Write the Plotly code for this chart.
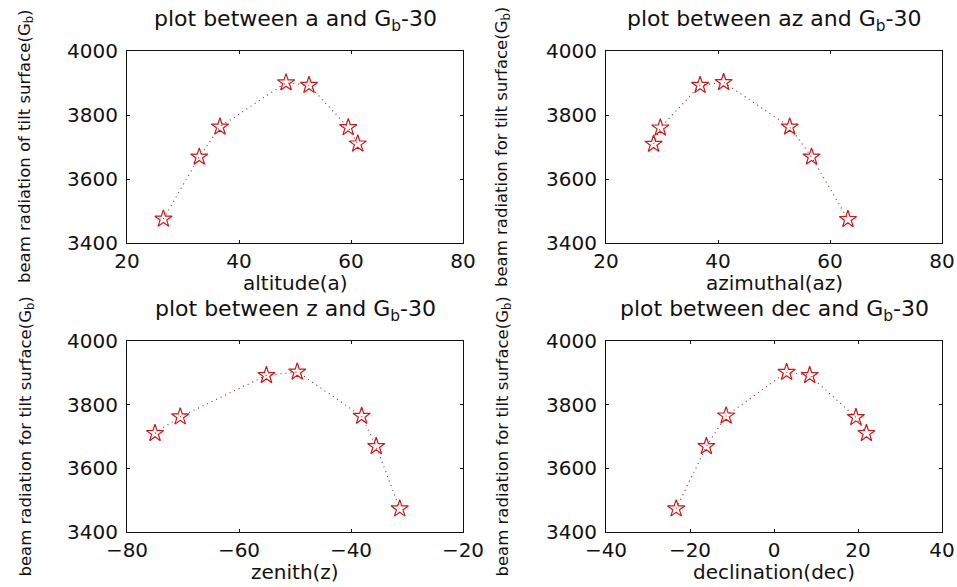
import plotly.graph_objects as go

# ---- data ----
altitude = [26.5, 32.9, 36.6, 48.4, 52.5, 59.5, 61.2]
gb_altitude = [3475, 3669, 3763, 3901, 3893, 3761, 3710]

azimuthal = [28.5, 29.7, 36.8, 41.0, 52.8, 56.7, 63.2]
gb_azimuthal = [3709, 3760, 3893, 3902, 3763, 3669, 3474]

zenith = [-75.0, -70.5, -55.1, -49.6, -38.1, -35.5, -31.3]
gb_zenith = [3710, 3762, 3892, 3903, 3764, 3669, 3473]

declination = [-23.3, -16.1, -11.4, 3.0, 8.5, 19.5, 22.0]
gb_declination = [3473, 3669, 3765, 3902, 3892, 3760, 3710]

titles = ["plot between a and G<sub>b</sub>-30", "plot between az and G<sub>b</sub>-30",
          "plot between z and G<sub>b</sub>-30", "plot between dec and G<sub>b</sub>-30"]
xlabels = ["altitude(a)", "azimuthal(az)", "zenith(z)", "declination(dec)"]
ylabels = ["beam radiation of tilt surface(G<sub>b</sub>)",
           "beam radiation for tilt surface(G<sub>b</sub>)",
           "beam radiation for tilt surface(G<sub>b</sub>)",
           "beam radiation for tilt surface(G<sub>b</sub>)"]
xranges = [[20, 80], [20, 80], [-80, -20], [-40, 40]]
xticks = [[20, 40, 60, 80], [20, 40, 60, 80], [-80, -60, -40, -20], [-40, -20, 0, 20, 40]]
yrange = [3400, 4000]
yticks = [3400, 3600, 3800, 4000]

W, H = 957, 587
FONT = "DejaVu Sans"
RED = "#cc1a1a"

# pixel boxes of the four axes: (left, right, top, bottom)
boxes = [(127, 463, 51, 243), (606, 942, 51, 243), (127, 463, 341, 532), (606, 942, 341, 532)]
ylab_x = [26, 503, 26, 503]

xs = [altitude, azimuthal, zenith, declination]
ys = [gb_altitude, gb_azimuthal, gb_zenith, gb_declination]

fig = go.Figure()
annotations = []
for i in range(4):
    n = "" if i == 0 else str(i + 1)
    L, R, T, B = boxes[i]
    fig.add_trace(go.Scatter(
        x=xs[i], y=ys[i], mode="lines+markers",
        xaxis="x" + n, yaxis="y" + n,
        line=dict(color="#a02020", width=1.1, dash="1px,4px"),
        marker=dict(symbol="star-open", size=13, color=RED, line=dict(width=1.2, color=RED)),
        showlegend=False, hoverinfo="x+y"))
    axcommon = dict(showline=True, linecolor="#111", linewidth=1.2, mirror="ticks",
                    ticks="inside", ticklen=3, tickcolor="#111", showgrid=False, zeroline=False,
                    automargin=False,
                    tickfont=dict(family=FONT, size=20, color="#111"))
    fig.layout["xaxis" + n] = dict(axcommon, domain=[L / W, R / W], range=xranges[i],
                                    tickvals=xticks[i], anchor="y" + n, ticklabelstandoff=0)
    fig.layout["yaxis" + n] = dict(axcommon, domain=[1 - B / H, 1 - T / H], range=yrange,
                                    tickvals=yticks, anchor="x" + n, ticklabelstandoff=4)
    cx = (L + R) / 2 / W
    annotations.append(dict(text=titles[i], x=cx, y=1 - (T - 31) / H, xref="paper", yref="paper",
                            xanchor="center", yanchor="middle", showarrow=False,
                            font=dict(family=FONT, size=22, color="#111")))
    annotations.append(dict(text=xlabels[i], x=cx, y=1 - (B + 40) / H, xref="paper", yref="paper",
                            xanchor="center", yanchor="middle", showarrow=False,
                            font=dict(family=FONT, size=20, color="#111")))
    annotations.append(dict(text=ylabels[i], x=ylab_x[i] / W, y=1 - (T + B) / 2 / H,
                            xref="paper", yref="paper", textangle=-90,
                            xanchor="center", yanchor="middle", showarrow=False,
                            font=dict(family=FONT, size=16.5, color="#111")))

fig.update_layout(width=W, height=H, margin=dict(l=0, r=0, t=0, b=0, pad=0, autoexpand=False),
                  paper_bgcolor="white", plot_bgcolor="white", annotations=annotations)
fig.write_html("out.html")
